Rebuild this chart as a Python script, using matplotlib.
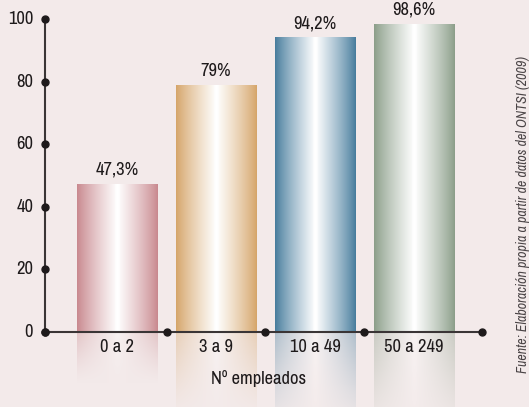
import numpy as np
import matplotlib
matplotlib.use('Agg')
import matplotlib.pyplot as plt
from matplotlib import font_manager
from matplotlib.colors import to_rgb

# data
categories = ['0 a 2', '3 a 9', '10 a 49', '50 a 249']
values = [47.3, 79, 94.2, 98.6]
value_labels = ['47,3%', '79%', '94,2%', '98,6%']
bar_colors = ['#c8878d', '#d5a468', '#457b9c', '#8a9d88']
yticks = [0, 20, 40, 60, 80, 100]
xlabel = 'Nº empleados'
source = 'Fuente: Elaboración propia a partir de datos del ONTSI (2009)'

# narrow font, close to the condensed face of the original
names = set(f.name for f in font_manager.fontManager.ttflist)
narrow = [n for n in ['Archivo Narrow', 'Roboto Condensed', 'Liberation Sans Narrow']
          if n in names]
plt.rcParams['font.family'] = narrow[:1] + ['DejaVu Sans']

bg = '#f3eaea'
axis_col = '#3a3536'
text_col = '#1e1a1b'
fs = 13.3

fig = plt.figure(figsize=(5.29, 4.07), dpi=100, facecolor=bg)
ax = fig.add_axes([0, 0, 1, 1], facecolor=bg)
ax.set_xlim(-1.182, 4.162)
ax.set_ylim(-24.1, 106.2)
ax.axis('off')

x = np.arange(len(categories))
width = 0.81
bars = ax.bar(x, values, width=width, color='none', edgecolor='none', zorder=2)

# horizontal gradient: edge colour -> white in the middle -> edge colour
u = np.linspace(-1, 1, 256)
t = (1 - np.abs(u)) ** 0.85
t = np.clip(t + 0.25 * np.exp(-(u / 0.03) ** 2), 0, 1)

for b, col, val in zip(bars, bar_colors, values):
    c = np.array(to_rgb(col))
    row = c[None, :] * (1 - t[:, None]) + t[:, None]
    img = row[None, :, :]
    x0 = b.get_x()
    x1 = x0 + b.get_width()
    im = ax.imshow(img, extent=[x0, x1, 0, val], aspect='auto', zorder=2,
                   interpolation='bilinear')
    im.set_clip_path(b)
    # fading reflection below the axis
    depth = 0.36 * val
    n = 64
    alpha = np.linspace(0.5, 0.0, n) ** 1.3
    refl = np.zeros((n, 256, 4))
    refl[:, :, :3] = row[None, :, :]
    refl[:, :, 3] = alpha[:, None]
    ax.imshow(refl, extent=[x0, x1, -depth, 0], aspect='auto', zorder=1,
              interpolation='bilinear', origin='upper')

# axes lines with dot markers
x_left = -0.727
x_right = 3.687
ax.plot([x_left, x_left], [0, 100], color=axis_col, lw=1.5, zorder=3)
ax.plot([x_left, x_right], [0, 0], color=axis_col, lw=1.5, zorder=3)
ax.plot([x_left] * len(yticks), yticks, 'o', color=text_col, ms=5, zorder=4)
xdots = [x_left] + list(x[:-1] + 0.5) + [x_right]
ax.plot(xdots, [0] * len(xdots), 'o', color=text_col, ms=5, zorder=4)

for yv in yticks:
    ax.text(x_left - 0.12, yv, str(yv), ha='right', va='center',
            fontsize=fs, color=text_col)

for xi, val, lab in zip(x, values, value_labels):
    ax.text(xi, val + 4.5, lab, ha='center', va='center',
            fontsize=fs, color=text_col, zorder=5)

for xi, cat in zip(x, categories):
    ax.text(xi, -4.9, cat, ha='center', va='center',
            fontsize=fs, color=text_col, zorder=5)

ax.text(1.43, -14.9, xlabel, ha='center', va='center', fontsize=fs,
        color=text_col, zorder=5)

ax.text(4.105, 37.5, source, rotation=90, ha='center', va='center',
        fontsize=10, style='italic', color='#4a4446')

fig.savefig('out.png', dpi=100, facecolor=bg)
